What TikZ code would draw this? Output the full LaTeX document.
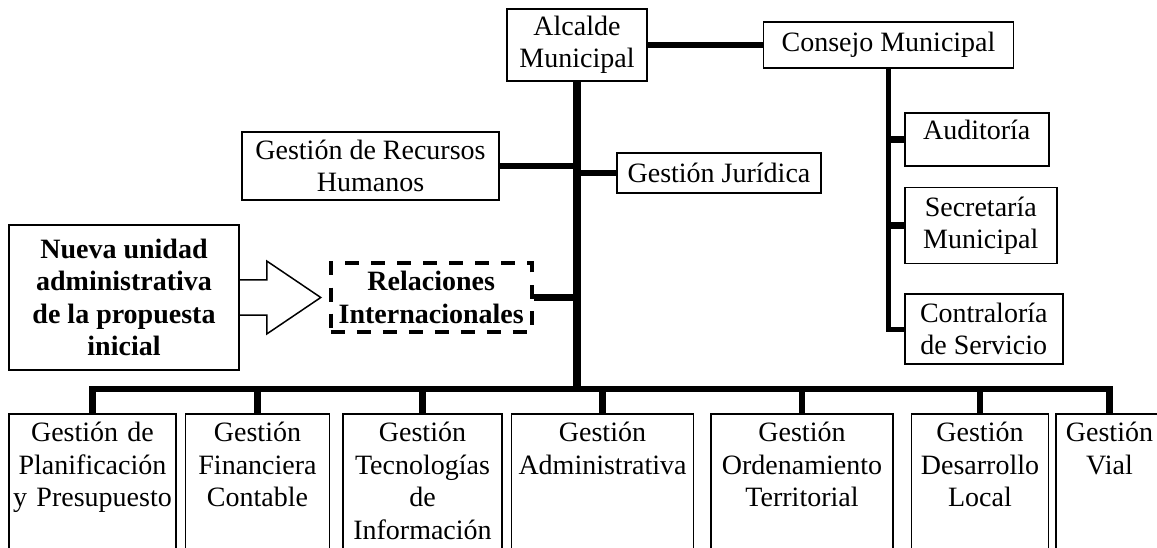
\documentclass[tikz,border=0pt]{standalone}
\usepackage{fontspec}
\setmainfont{Liberation Serif}
\usetikzlibrary{positioning}

\begin{document}
\begin{tikzpicture}[
        x=1pt, y=-1pt,
        font=\fontsize{28}{32.5}\selectfont,
        box/.style={rectangle, draw=black, line width=1.5pt, align=center, inner sep=0pt},
        unit/.style={box, anchor=north, inner xsep=2pt, text height=28pt, text depth=200pt},
        newbox/.style={box, line width=4pt, dash pattern=on 14pt off 12pt, font=\fontsize{28}{32.5}\selectfont\bfseries},
        link/.style={line width=6.5pt}
    ]
    \useasboundingbox (0,0) rectangle (1157,548);
    \clip (0,0) rectangle (1157,548);

    % Alcaldía y Concejo
    \node[box, minimum width=140pt, minimum height=72pt] (alc) at (577,45) {Alcalde\\Municipal};
    \node[box, minimum width=250pt, minimum height=46pt, right=115pt of alc] (cons) {Consejo Municipal};

    % Unidades de apoyo
    \node[box, minimum width=257pt, minimum height=68pt] (grh) at (370.5,166) {Gestión de Recursos\\Humanos};
    \node[box, minimum width=204pt, minimum height=40pt] (jur) at (719,173) {Gestión Jurídica};

    % Dependencias del Concejo
    \node[box, minimum width=144pt, text height=27pt, text depth=26pt, anchor=west] (aud) at (904,139.5) {Auditoría};
    \node[box, minimum width=152pt, minimum height=76pt, below=20pt of aud.south west, anchor=north west] (sec) {Secretaría\\Municipal};
    \node[box, minimum width=158pt, minimum height=70pt, below=29pt of sec.south west, anchor=north west] (con) {Contraloría\\de Servicio};

    % Propuesta
    \node[box, minimum width=230pt, minimum height=145pt, font=\fontsize{28}{32.5}\selectfont\bfseries] (nue) at (124,297.5) {Nueva unidad\\administrativa\\de la propuesta\\inicial};
    \node[newbox, minimum width=201pt, minimum height=68pt, right=89pt of nue] (rel) {Relaciones\\Internacionales};
    \draw[line width=1.5pt] ([yshift=17.5pt]nue.east) -- ++(27,0) -- ++(0,-19) -- ++(54,36.5) -- ++(-54,36.5) -- ++(0,-19) -- ++(-27,0);

    % Gestiones operativas
    \node[unit, text width=163pt] (u1) at (92.5,413) {Gestión de\\Planificación\\y Presupuesto};
    \node[unit, text width=140pt, right=8pt of u1] (u2) {Gestión\\Financiera\\Contable};
    \node[unit, text width=155pt, right=12pt of u2] (u3) {Gestión\\Tecnologías\\de\\Información};
    \node[unit, text width=178pt, right=8pt of u3] (u4) {Gestión\\Administrativa};
    \node[unit, text width=178pt, right=16pt of u4] (u5) {Gestión\\Ordenamiento\\Territorial};
    \node[unit, text width=133pt, right=17pt of u5] (u6) {Gestión\\Desarrollo\\Local};
    \node[unit, text width=103pt, right=6pt of u6] (u7) {Gestión\\Vial};

    % Líneas de mando
    \coordinate (bus) at (578,389);
    \draw[link, line width=7.5pt] (alc.south) -- (alc.south |- bus);
    \draw[link] (alc.east) -- (alc.east -| cons.west);
    \draw[link] (grh.east) -- (grh.east -| alc.south);
    \draw[link] (jur.west) -- (jur.west -| alc.south);
    \draw[link] (rel.east) -- (rel.east -| alc.south);
    \draw[link, line width=5pt] (cons.south) |- (con.west);
    \draw[link] (aud.west) -- (aud.west -| cons.south);
    \draw[link] (sec.west) -- (sec.west -| cons.south);
    \draw[link] (u1.north) -- (u1.north |- bus) -- (u7.north |- bus) -- (u7.north);
    \foreach \u in {u2,u3,u4,u5,u6}
        \draw[link] (\u.north) -- (\u.north |- bus);

\end{tikzpicture}
\end{document}
